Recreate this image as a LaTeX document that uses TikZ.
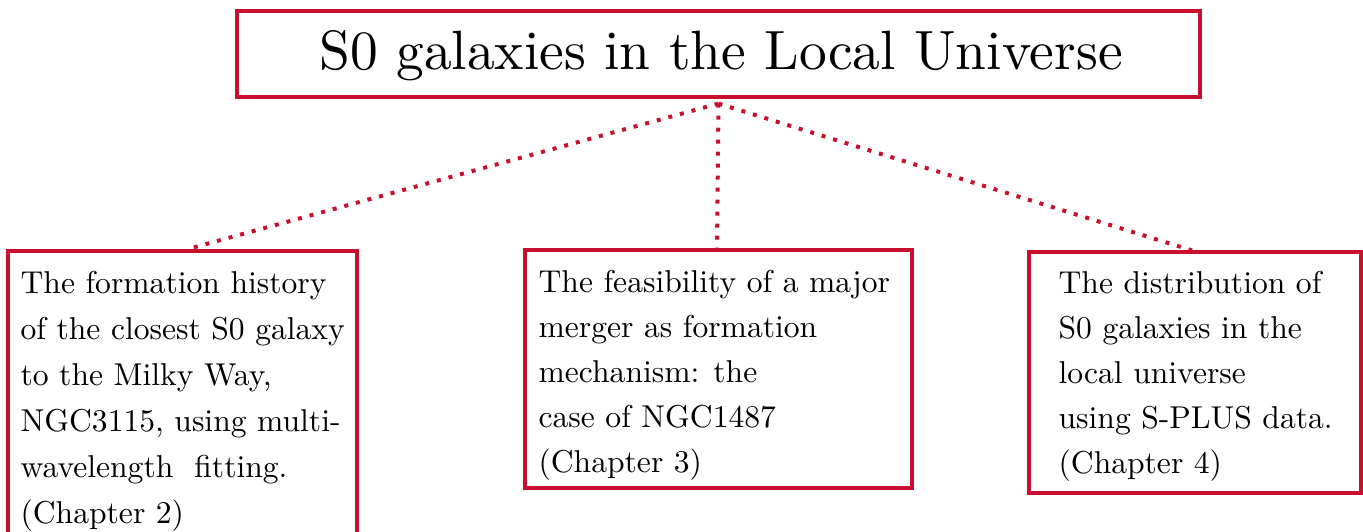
\documentclass[tikz,border=0pt]{standalone}
\definecolor{boxred}{RGB}{200,16,46}
\tikzset{
  framebox/.style={draw=boxred, line width=3.2pt, rectangle, inner sep=0pt},
  bodytext/.style={scale=3.16, transform shape, inner sep=0pt, align=left, anchor=north west,
    font=\fontsize{10}{14.56}\selectfont},
  tightertext/.style={bodytext, font=\fontsize{10}{14.24}\selectfont},
  link/.style={draw=boxred, line width=4pt, dash pattern=on 4pt off 8pt}
}
\begin{document}
\begin{tikzpicture}[x=1pt,y=-1pt]
\useasboundingbox (0,0) rectangle (1363,532);
\clip (0,0) rectangle (1363,532);
% boxes
\node[framebox, minimum width=963pt, minimum height=86pt] (top) at (718.5,54) {};
\node[framebox, minimum width=349pt, minimum height=320pt] (left) at (182.5,411) {};
\node[framebox, minimum width=387pt, minimum height=238pt] (mid) at (718.5,369) {};
\node[framebox, minimum width=332pt, minimum height=241pt] (right) at (1195,372.5) {};
% texts
\node[scale=5.54, transform shape, inner sep=0pt, font=\fontsize{10}{12}\selectfont] (title) at (721,56) {S0 galaxies in the Local Universe};
\node[bodytext] (lt) at (20,271) {The formation history\\of the closest S0 galaxy\\to the Milky Way,\\NGC3115, using multi-\\wavelength\ \ fitting.\\(Chapter 2)};
\node[tightertext] (mt) at (538,270) {The feasibility of a major\\merger as formation\\mechanism: the\\case of NGC1487\\(Chapter 3)};
\node[tightertext] (rt) at (1058,271) {The distribution of\\S0 galaxies in the\\local universe\\using S-PLUS data.\\(Chapter 4)};
% connectors
\draw[link] ([yshift=-5pt]top.south) -- ([xshift=4pt]left.north);
\draw[link] ([yshift=-5pt]top.south) -- ([xshift=-1.5pt]mid.north);
\draw[link] ([yshift=-5pt]top.south) -- ([xshift=-3pt]right.north);
\end{tikzpicture}
\end{document}
